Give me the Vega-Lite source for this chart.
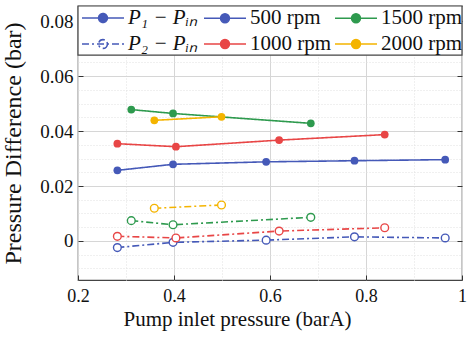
{
  "$schema": "https://vega.github.io/schema/vega-lite/v6.json",
  "width": 384,
  "height": 274,
  "autosize": "none",
  "padding": {"left": 78, "top": 6, "right": 5, "bottom": 61},
  "background": "white",
  "config": {
    "font": "Liberation Serif",
    "view": {"stroke": "#444444", "strokeWidth": 1.2},
    "axis": {"domain": false, "labelColor": "#111111", "titleColor": "#111111", "titleFontWeight": "normal", "labelFontSize": 19, "titleFontSize": 20}
  },
  "data": {
    "values": [
      {"x": 0.282, "y": 0.0257, "rpm": "500 rpm", "type": "P1"},
      {"x": 0.398, "y": 0.0279, "rpm": "500 rpm", "type": "P1"},
      {"x": 0.592, "y": 0.0288, "rpm": "500 rpm", "type": "P1"},
      {"x": 0.776, "y": 0.0292, "rpm": "500 rpm", "type": "P1"},
      {"x": 0.965, "y": 0.0296, "rpm": "500 rpm", "type": "P1"},
      {"x": 0.282, "y": 0.0354, "rpm": "1000 rpm", "type": "P1"},
      {"x": 0.404, "y": 0.0343, "rpm": "1000 rpm", "type": "P1"},
      {"x": 0.619, "y": 0.0367, "rpm": "1000 rpm", "type": "P1"},
      {"x": 0.839, "y": 0.0387, "rpm": "1000 rpm", "type": "P1"},
      {"x": 0.311, "y": 0.0478, "rpm": "1500 rpm", "type": "P1"},
      {"x": 0.398, "y": 0.0464, "rpm": "1500 rpm", "type": "P1"},
      {"x": 0.685, "y": 0.0428, "rpm": "1500 rpm", "type": "P1"},
      {"x": 0.359, "y": 0.0439, "rpm": "2000 rpm", "type": "P1"},
      {"x": 0.499, "y": 0.0452, "rpm": "2000 rpm", "type": "P1"},
      {"x": 0.282, "y": -0.0024, "rpm": "500 rpm", "type": "P2"},
      {"x": 0.398, "y": -0.0005, "rpm": "500 rpm", "type": "P2"},
      {"x": 0.592, "y": 0.0003, "rpm": "500 rpm", "type": "P2"},
      {"x": 0.776, "y": 0.0015, "rpm": "500 rpm", "type": "P2"},
      {"x": 0.965, "y": 0.0011, "rpm": "500 rpm", "type": "P2"},
      {"x": 0.282, "y": 0.0017, "rpm": "1000 rpm", "type": "P2"},
      {"x": 0.404, "y": 0.0011, "rpm": "1000 rpm", "type": "P2"},
      {"x": 0.619, "y": 0.0036, "rpm": "1000 rpm", "type": "P2"},
      {"x": 0.839, "y": 0.0048, "rpm": "1000 rpm", "type": "P2"},
      {"x": 0.311, "y": 0.0074, "rpm": "1500 rpm", "type": "P2"},
      {"x": 0.398, "y": 0.0059, "rpm": "1500 rpm", "type": "P2"},
      {"x": 0.685, "y": 0.0086, "rpm": "1500 rpm", "type": "P2"},
      {"x": 0.359, "y": 0.0119, "rpm": "2000 rpm", "type": "P2"},
      {"x": 0.499, "y": 0.0131, "rpm": "2000 rpm", "type": "P2"}
    ]
  },
  "layer": [
    {
      "data": {"values": [{}]},
      "mark": {"type": "rect", "fill": "white", "stroke": "#444444", "strokeWidth": 1.2},
      "encoding": {
        "x": {"datum": 0.2, "type": "quantitative", "title": "Pump inlet pressure (barA)"},
        "x2": {"datum": 1.0},
        "y": {"datum": 0.0676, "type": "quantitative", "axis": null},
        "y2": {"datum": 0.0855}
      }
    },
    {
      "mark": {"type": "line", "strokeWidth": 1.6},
      "encoding": {
        "x": {
          "field": "x", "type": "quantitative",
          "title": "Pump inlet pressure (barA)",
          "scale": {"domain": [0.2, 1.0], "nice": false, "zero": false},
          "axis": {
            "values": [0.2, 0.25, 0.3, 0.35, 0.4, 0.45, 0.5, 0.55, 0.6, 0.65, 0.7, 0.75, 0.8, 0.85, 0.9, 0.95, 1.0],
            "labelExpr": "abs(datum.value*5 - round(datum.value*5)) < 0.001 ? format(datum.value, '~g') : ''",
            "grid": true,
            "gridColor": {"condition": {"test": "abs(datum.value*5 - round(datum.value*5)) < 0.001", "value": "#d6d6d6"}, "value": "#e0e0e0"},
            "gridDash": {"condition": {"test": "abs(datum.value*5 - round(datum.value*5)) < 0.001", "value": []}, "value": [1, 2]},
            "tickColor": {"condition": {"test": "abs(datum.value*5 - round(datum.value*5)) < 0.001", "value": "#333333"}, "value": "transparent"},
            "tickSize": -5,
            "labelPadding": 12,
            "labelFontSize": 18,
            "labelFlush": false,
            "titleFontSize": 21,
            "titleX": 159,
            "titleY": 45,
            "titleBaseline": "alphabetic"
          }
        },
        "y": {
          "field": "y", "type": "quantitative",
          "title": "Pressure Difference (bar)",
          "scale": {"domain": [-0.0142, 0.0855], "nice": false, "zero": false},
          "axis": {
            "values": [-0.01, -0.005, 0, 0.005, 0.01, 0.015, 0.02, 0.025, 0.03, 0.035, 0.04, 0.045, 0.05, 0.055, 0.06, 0.065, 0.07, 0.075, 0.08, 0.085],
            "labelExpr": "abs(datum.value*50 - round(datum.value*50)) < 0.001 ? format(datum.value, '~g') : ''",
            "grid": true,
            "gridColor": {"condition": {"test": "abs(datum.value*50 - round(datum.value*50)) < 0.001", "value": "#d6d6d6"}, "value": "#e0e0e0"},
            "gridDash": {"condition": {"test": "abs(datum.value*50 - round(datum.value*50)) < 0.001", "value": []}, "value": [1, 2]},
            "tickColor": {"condition": {"test": "abs(datum.value*50 - round(datum.value*50)) < 0.001", "value": "#333333"}, "value": "transparent"},
            "tickSize": -5,
            "labelPadding": 10,
            "labelFlush": false,
            "titleFontSize": 24,
            "titlePadding": 14
          }
        },
        "color": {
          "field": "rpm", "type": "nominal",
          "scale": {"domain": ["500 rpm", "1000 rpm", "1500 rpm", "2000 rpm"], "range": ["#4559b8", "#e84646", "#2e9a4e", "#f4b400"]},
          "legend": {
            "title": null,
            "orient": "none",
            "legendX": 135.5,
            "legendY": 0.5,
            "columns": 2,
            "columnPadding": 0,
            "rowPadding": 4,
            "symbolType": "M-2,0H2M0.42,0A0.42,0.42 0 1,1 -0.42,0A0.42,0.42 0 1,1 0.42,0Z",
            "symbolSize": 441,
            "symbolStrokeWidth": 1.6,
            "labelFontSize": 21,
            "labelColor": "#111111",
            "labelOffset": 13.5,
            "encode": {"symbols": {"update": {"fill": {"scale": "color", "field": "value"}, "stroke": {"scale": "color", "field": "value"}, "opacity": {"value": 1}}}}
          }
        },
        "strokeDash": {
          "field": "type", "type": "nominal",
          "scale": {"domain": ["P1", "P2"], "range": [[1, 0], [7, 3, 2, 3]]},
          "legend": {
            "title": null,
            "orient": "none",
            "legendX": 13.5,
            "legendY": 0.5,
            "direction": "vertical",
            "rowPadding": 4,
            "symbolType": "M-2,0H2M0.42,0A0.42,0.42 0 1,1 -0.42,0A0.42,0.42 0 1,1 0.42,0Z",
            "symbolSize": 441,
            "symbolStrokeWidth": 1.6,
            "symbolStrokeColor": "#4559b8",
            "labelFontSize": 21,
            "labelFontStyle": "italic",
            "labelColor": "#111111",
            "labelOffset": 13.5,
            "labelExpr": "datum.value == 'P1' ? 'P₁ − Pᵢₙ' : 'P₂ − Pᵢₙ'",
            "encode": {"symbols": {"update": {"fill": {"signal": "datum.value == 'P1' ? '#4559b8' : 'white'"}, "stroke": {"value": "#4559b8"}}}}
          }
        }
      }
    },
    {
      "transform": [{"filter": "datum.type == 'P1'"}],
      "mark": {"type": "point", "filled": true, "size": 60, "opacity": 1},
      "encoding": {
        "x": {"field": "x", "type": "quantitative", "title": "Pump inlet pressure (barA)"},
        "y": {"field": "y", "type": "quantitative", "axis": null},
        "color": {"field": "rpm", "type": "nominal"}
      }
    },
    {
      "transform": [{"filter": "datum.type == 'P2'"}],
      "mark": {"type": "point", "filled": false, "fill": "white", "size": 60, "strokeWidth": 1.4, "opacity": 1},
      "encoding": {
        "x": {"field": "x", "type": "quantitative", "title": "Pump inlet pressure (barA)"},
        "y": {
          "field": "y", "type": "quantitative",
          "axis": {
            "orient": "right",
            "title": null,
            "labels": false,
            "grid": false,
            "values": [0, 0.02, 0.04, 0.06, 0.08],
            "tickSize": -5,
            "tickColor": "#333333"
          }
        },
        "color": {"field": "rpm", "type": "nominal"}
      }
    }
  ],
  "resolve": {"axis": {"y": "independent"}}
}
